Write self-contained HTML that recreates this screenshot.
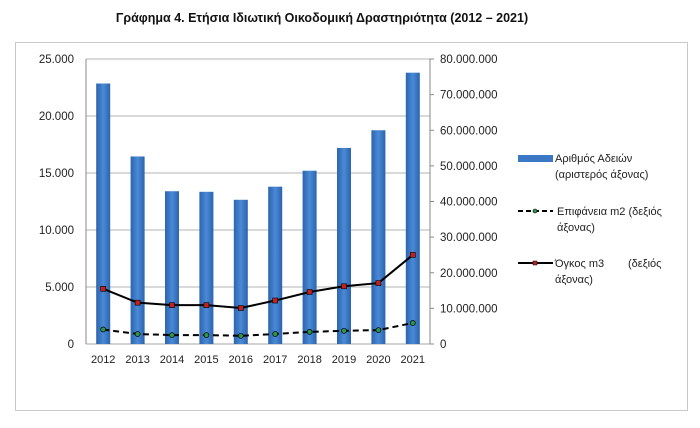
<!DOCTYPE html>
<html><head><meta charset="utf-8"><style>
body{margin:0;background:#fff;width:700px;height:423px;overflow:hidden;font-family:"Liberation Sans","DejaVu Sans",sans-serif}
</style></head><body>
<svg width="700" height="423" xmlns="http://www.w3.org/2000/svg">
<defs><linearGradient id="bg" x1="0" x2="1"><stop offset="0" stop-color="#2c63ad"/><stop offset="0.5" stop-color="#4a8ad6"/><stop offset="1" stop-color="#2c63ad"/></linearGradient></defs>
<text x="322" y="22" text-anchor="middle" font-weight="bold" font-size="12.5" fill="#111">Γράφημα 4. Ετήσια Ιδιωτική Οικοδομική Δραστηριότητα (2012 – 2021)</text>
<rect x="15.5" y="42.5" width="672" height="368" fill="none" stroke="#c8c8c8"/>
<g id="grid"></g><g id="bars"></g><g id="lines"></g><g id="axes"></g>
<g font-size="11" fill="#222">
<rect x="518" y="155" width="35" height="7" fill="#3a78c6"/>
<text x="555" y="162">Αριθμός Αδειών</text>
<text x="555" y="178">(αριστερός άξονας)</text>
<line x1="518" y1="211" x2="553" y2="211" stroke="#000" stroke-width="2" stroke-dasharray="5,3"/>
<circle cx="535" cy="211" r="2" fill="#2a9a4a" stroke="#000" stroke-width="0.6"/>
<text x="557" y="215">Επιφάνεια m2 (δεξιός</text>
<text x="557" y="231">άξονας)</text>
<line x1="518" y1="263" x2="553" y2="263" stroke="#000" stroke-width="2"/>
<rect x="533" y="261" width="4" height="4" fill="#c42020" stroke="#000" stroke-width="0.5"/>
<text x="555" y="267">Όγκος m3</text>
<text x="628" y="267">(δεξιός</text>
<text x="555" y="283">άξονας)</text>
</g>
</svg>
<script>
const years=["2012","2013","2014","2015","2016","2017","2018","2019","2020","2021"];
const permits=[22850,16450,13400,13350,12650,13800,15200,17200,18750,23800];
const areaM2=[4060000,2800000,2500000,2500000,2300000,2800000,3400000,3700000,3900000,5900000];
const volumeM3=[15500000,11600000,10900000,10900000,10100000,12200000,14600000,16200000,17100000,25000000];
const leftTicks=[0,5000,10000,15000,20000,25000];
const rightTicks=[0,10000000,20000000,30000000,40000000,50000000,60000000,70000000,80000000];
const NS="http://www.w3.org/2000/svg";
const L=86,R=430,T=59,B=344;
const yL=v=>B-v/25000*(B-T), yR=v=>B-v/80000000*(B-T);
const step=(R-L)/years.length, xC=i=>L+step*(i+0.5);
const fmt=v=>v.toLocaleString("de-DE");
function mk(tag,at,parent){const e=document.createElementNS(NS,tag);for(const k in at)e.setAttribute(k,at[k]);document.getElementById(parent).appendChild(e);return e;}
leftTicks.forEach(v=>{
 const g=mk("line",{x1:L,x2:R,y1:yL(v),y2:yL(v),stroke:v?"#9a9a9a":"#888","stroke-width":0.8},"grid");
 
 
 const t=mk("text",{x:L-12,y:yL(v)+4,"text-anchor":"end","font-size":11.5,fill:"#222"},"axes");t.textContent=fmt(v);
 
 
});
rightTicks.forEach(v=>{
 const k=mk("line",{x1:R,x2:R+4,y1:yR(v),y2:yR(v),stroke:"#888"},"axes");
 
 
 const t=mk("text",{x:R+10,y:yR(v)+4,"font-size":11.5,fill:"#222"},"axes");t.textContent=fmt(v);
 
 
});
const ax=mk("line",{x1:L,x2:L,y1:T,y2:B,stroke:"#888"},"axes");


const ar=mk("line",{x1:R,x2:R,y1:T,y2:B,stroke:"#888"},"axes");


years.forEach((y,i)=>{
 const b=mk("rect",{x:xC(i)-7,y:yL(permits[i]),width:14,height:B-yL(permits[i]),fill:"url(#bg)"},"bars");
 
 
 const t=mk("text",{x:xC(i),y:B+19,"text-anchor":"middle","font-size":11,fill:"#222"},"axes");t.textContent=y;
 
 
});
const p1=mk("polyline",{points:areaM2.map((v,i)=>xC(i)+","+yR(v)).join(" "),fill:"none",stroke:"#000","stroke-width":2,"stroke-dasharray":"6,4"},"lines");


const p2=mk("polyline",{points:volumeM3.map((v,i)=>xC(i)+","+yR(v)).join(" "),fill:"none",stroke:"#000","stroke-width":2},"lines");


areaM2.forEach((v,i)=>{const c=mk("circle",{cx:xC(i),cy:yR(v),r:2.5,fill:"#2a9a4a",stroke:"#000","stroke-width":0.7},"lines");
 
 });
volumeM3.forEach((v,i)=>{const c=mk("rect",{x:xC(i)-2.5,y:yR(v)-2.5,width:5,height:5,fill:"#c42020",stroke:"#000","stroke-width":0.6},"lines");
 
 });
</script>
</body></html>
